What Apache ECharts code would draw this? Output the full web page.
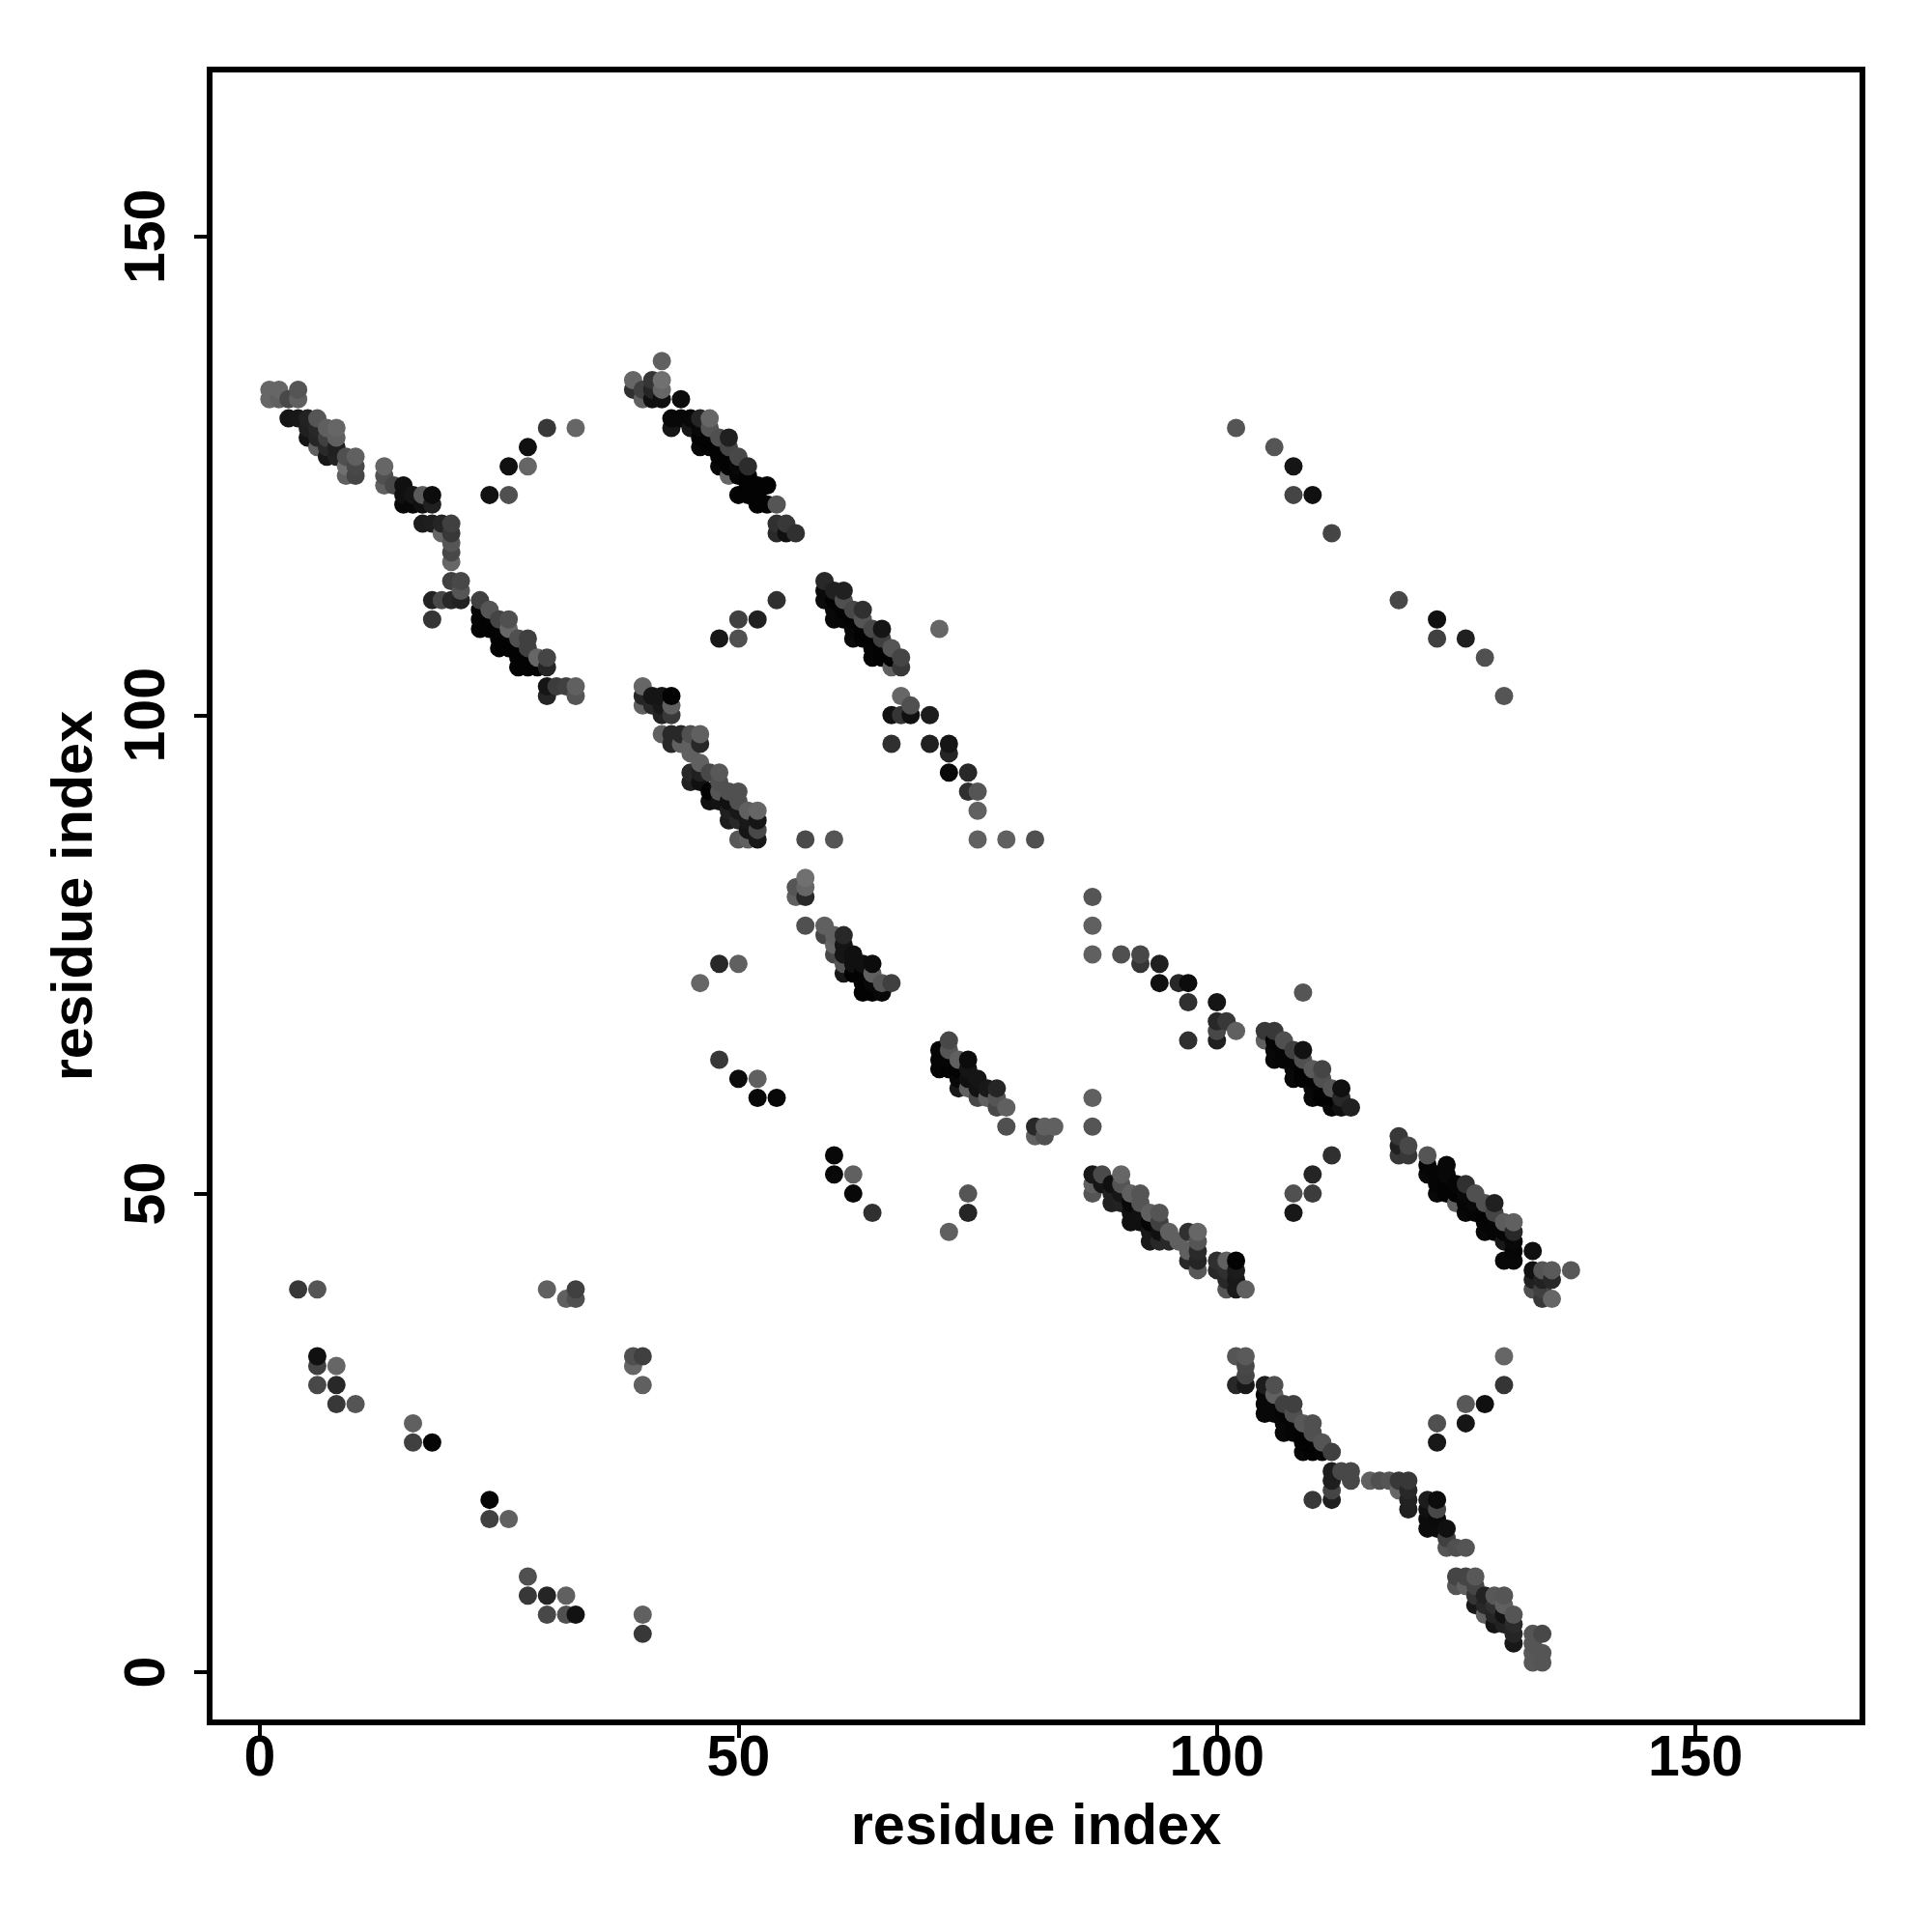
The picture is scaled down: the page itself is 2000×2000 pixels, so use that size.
<!DOCTYPE html>
<html>
<head>
<meta charset="utf-8">
<style>html,body{margin:0;padding:0;background:#fff}#c{width:2000px;height:2000px}</style>
<script src="https://cdn.jsdelivr.net/npm/echarts@6/dist/echarts.min.js"></script>
</head>
<body>
<div id="c"></div>
<script>
// Each point: [residue x, residue y, grey level]
const xTicks = [0, 50, 100, 150];
const yTicks = [0, 50, 100, 150];
const axisTitle = 'residue index';

const helixTopLeft = [
[1,134,0x66],[2,134,0x66],[4,134,0x55],[1,133,0x66],[2,133,0x60],[3,133,0x48],[4,133,0x60],
[3,131,0x15],[4,131,0x18],[5,131,0x22],[6,131,0x55],[5,130,0x20],[6,130,0x28],[7,130,0x5f],[8,130,0x66],
[5,129,0x15],[6,129,0x25],[7,129,0x40],[8,129,0x60],[6,128,0x60],[7,128,0x2a],[8,128,0x20],
[7,127,0x18],[8,127,0x22],[9,127,0x50],[10,127,0x60],[9,126,0x70],[10,126,0x48],[9,125,0x60],[10,125,0x45],
[13,126,0x66],[13,125,0x50],[13,124,0x60],[14,124,0x48],[15,124,0x10],
[15,123,0x10],[16,123,0x15],[17,123,0x5a],[18,123,0x0c],[15,122,0x08],[16,122,0x08],[17,122,0x10],[18,122,0x20],
[17,120,0x1c],[18,120,0x1e],[19,120,0x25],[20,120,0x40],[19,119,0x66],[20,119,0x38],[20,118,0x55],[20,117,0x48],[20,116,0x66],
[20,114,0x40],[21,114,0x48],[21,113,0x55],[18,112,0x22],[19,112,0x48],[20,112,0x28],[21,112,0x22],[18,110,0x35],
[23,112,0x40],[23,111,0x04],[23,110,0x04],[23,109,0x04],[24,111,0x55],[24,110,0x03],[24,109,0x03],
[25,110,0x45],[25,109,0x04],[25,108,0x03],[25,107,0x03],[26,110,0x50],[26,109,0x66],[26,108,0x03],[26,107,0x03],
[27,108,0x50],[27,107,0x03],[27,106,0x03],[27,105,0x03],[28,108,0x40],[28,107,0x40],[28,106,0x03],[28,105,0x03],
[29,106,0x66],[29,105,0x03],[30,106,0x45],[30,105,0x25],[30,103,0x15],[31,103,0x3c],[32,103,0x40],[33,103,0x60],[30,102,0x25],[33,102,0x55],
[30,130,0x38],[33,130,0x66],[28,128,0x10],[26,126,0x10],[28,126,0x66],[24,123,0x12],[26,123,0x50]
];

const helixTopMiddle = [
[42,137,0x60],[39,135,0x66],[41,135,0x35],[42,135,0x70],[39,134,0x30],[40,134,0x40],[41,134,0x25],[42,134,0x66],
[40,133,0x60],[41,133,0x10],[42,133,0x10],[44,133,0x0c],
[43,131,0x08],[44,131,0x08],[45,131,0x08],[46,131,0x25],[47,131,0x66],[43,130,0x15],[45,130,0x15],[46,130,0x08],[47,130,0x55],
[46,129,0x03],[47,129,0x03],[48,129,0x50],[49,129,0x20],[46,128,0x08],[47,128,0x03],[48,128,0x03],[49,128,0x45],
[48,127,0x03],[49,127,0x03],[50,127,0x48],[48,126,0x08],[49,126,0x03],[50,126,0x08],[51,126,0x2c],
[49,125,0x66],[50,125,0x05],[51,125,0x03],[51,124,0x03],[52,124,0x03],[53,124,0x03],
[50,123,0x03],[51,123,0x03],[52,123,0x03],[52,122,0x03],[53,122,0x03],[54,122,0x55],
[54,120,0x30],[55,120,0x38],[54,119,0x2a],[55,119,0x10],[56,119,0x30],
[54,112,0x30],[50,110,0x40],[52,110,0x20],[48,108,0x18],[50,108,0x50],[71,109,0x66]
];

const helixUpperCentre = [
[59,114,0x28],[59,113,0x0a],[59,112,0x0c],[60,113,0x20],[61,113,0x20],[60,112,0x03],[61,112,0x50],
[60,111,0x08],[60,110,0x08],[61,111,0x03],[61,110,0x05],[62,111,0x48],[63,111,0x30],[62,110,0x03],[63,110,0x55],
[62,109,0x08],[62,108,0x0a],[63,109,0x03],[63,108,0x03],[64,109,0x48],[65,109,0x15],[64,108,0x03],[65,108,0x40],
[64,107,0x05],[64,106,0x05],[65,107,0x03],[65,106,0x03],[66,107,0x55],[66,106,0x03],[66,105,0x60],[67,106,0x45],[67,105,0x38],
[67,102,0x66],[68,101,0x50],[66,100,0x12],[67,100,0x35],[68,100,0x10],[70,100,0x1c],
[66,97,0x30],[70,97,0x20],[72,97,0x15],[72,96,0x25],[72,94,0x08],[74,94,0x28],[74,92,0x30],[75,92,0x55],[75,90,0x60],
[57,87,0x4a],[60,87,0x55],[75,87,0x60],[78,87,0x60],[81,87,0x50]
];

const helixSecondLeft = [
[40,103,0x66],[40,102,0x25],[41,102,0x15],[42,102,0x15],[43,102,0x03],[40,101,0x60],[41,101,0x28],[42,101,0x18],[43,101,0x60],
[42,100,0x22],[43,100,0x38],[42,98,0x60],[43,98,0x28],[44,98,0x28],[45,98,0x50],[46,98,0x60],
[43,97,0x28],[44,97,0x60],[45,97,0x60],[46,97,0x28],[45,96,0x60],[46,95,0x60],[46,94,0x20],
[45,94,0x28],[47,94,0x48],[48,94,0x58],[45,93,0x20],[46,93,0x10],[48,93,0x50],
[47,92,0x03],[48,92,0x55],[49,92,0x50],[50,92,0x50],[47,91,0x10],[48,91,0x12],[49,91,0x10],[50,91,0x50],
[49,90,0x20],[50,90,0x18],[51,90,0x60],[52,90,0x66],[49,89,0x1c],[50,89,0x28],[51,89,0x18],[52,89,0x15],
[51,88,0x15],[52,88,0x48],[50,87,0x58],[51,87,0x60],[52,87,0x18]
];

const helixCentre = [
[57,83,0x70],[56,82,0x55],[57,82,0x66],[56,81,0x60],[57,81,0x28],[57,78,0x50],
[59,78,0x60],[59,77,0x45],[60,77,0x60],[61,77,0x28],[60,76,0x66],[61,76,0x15],[60,75,0x48],[61,75,0x15],[62,75,0x10],
[61,74,0x55],[62,74,0x10],[63,74,0x10],[64,74,0x0c],[61,73,0x18],[62,73,0x03],[63,73,0x03],[64,73,0x60],
[63,72,0x03],[64,72,0x08],[65,72,0x55],[66,72,0x40],[63,71,0x03],[64,71,0x03],[65,71,0x08],
[48,74,0x28],[50,74,0x60],[46,72,0x66],[48,64,0x38],[50,62,0x0c],[52,62,0x60],[52,60,0x08],[54,60,0x08],
[60,54,0x08],[60,52,0x08],[62,52,0x60],[62,50,0x08],[64,48,0x30],[74,50,0x55],[74,48,0x25],[72,46,0x60]
];

const helixCentreRight = [
[72,66,0x48],[71,65,0x05],[72,65,0x55],[71,64,0x05],[72,64,0x05],[73,64,0x60],[74,64,0x0c],
[71,63,0x05],[72,63,0x03],[73,63,0x03],[74,63,0x15],[73,62,0x08],[74,62,0x10],[75,62,0x15],
[73,61,0x18],[74,61,0x60],[75,61,0x12],[76,61,0x18],[77,61,0x25],[75,60,0x48],[76,60,0x60],[77,60,0x55],
[77,59,0x48],[78,59,0x60],[78,57,0x50],[81,57,0x28],[82,57,0x60],[83,57,0x60],[81,56,0x60],[82,56,0x50],[87,60,0x60],[87,57,0x55]
];

const helixLowerMiddle = [
[87,52,0x18],[88,52,0x4a],[90,52,0x66],[87,51,0x60],[88,51,0x15],[89,51,0x10],[90,51,0x55],
[87,50,0x55],[89,50,0x20],[90,50,0x15],[91,50,0x60],[92,50,0x55],[89,49,0x20],[90,49,0x22],[91,49,0x08],[92,49,0x55],
[91,48,0x10],[92,48,0x10],[93,48,0x60],[94,48,0x55],[91,47,0x10],[92,47,0x10],[93,47,0x05],[94,47,0x40],
[93,46,0x18],[94,46,0x10],[95,46,0x60],[97,46,0x30],[98,46,0x66],[93,45,0x1a],[94,45,0x28],[95,45,0x28],[96,45,0x60],[98,45,0x55],
[97,44,0x60],[98,44,0x2a],[97,43,0x28],[98,43,0x25],[100,43,0x30],[101,43,0x60],[102,43,0x03],
[98,42,0x58],[100,42,0x28],[101,42,0x30],[102,42,0x1c],[101,41,0x28],[102,41,0x18],[101,40,0x55],[102,40,0x1a],[103,40,0x60]
];

const helixRightUpper = [
[105,67,0x38],[106,67,0x38],[105,66,0x60],[106,66,0x05],[107,66,0x50],[106,65,0x08],[106,64,0x08],[107,65,0x05],[107,64,0x05],
[108,65,0x40],[109,65,0x12],[108,64,0x05],[109,64,0x50],[108,63,0x08],[108,62,0x08],[109,63,0x03],[109,62,0x03],[110,63,0x5a],[111,63,0x45],
[110,62,0x03],[111,62,0x50],[110,61,0x08],[110,60,0x08],[111,61,0x03],[111,60,0x03],[112,61,0x55],[113,61,0x10],
[112,60,0x03],[113,60,0x28],[112,59,0x08],[113,59,0x10],[114,59,0x20],
[112,54,0x30],[110,52,0x25],[108,50,0x50],[110,50,0x3c],[108,48,0x18]
];

const helixRightLower = [
[119,56,0x38],[119,55,0x20],[120,55,0x48],[119,54,0x38],[120,54,0x38],[122,54,0x55],[122,53,0x05],[122,52,0x08],[124,53,0x08],
[123,52,0x05],[124,52,0x08],[123,51,0x05],[123,50,0x08],[124,51,0x03],[125,51,0x05],[126,51,0x30],[124,50,0x03],[125,50,0x03],[126,50,0x08],[127,50,0x50],
[125,49,0x60],[126,49,0x05],[127,49,0x08],[128,49,0x50],[129,49,0x20],[126,48,0x08],[127,48,0x05],[128,48,0x03],[129,48,0x45],
[128,47,0x05],[129,47,0x05],[130,47,0x5c],[131,47,0x60],[128,46,0x08],[129,46,0x05],[130,46,0x05],[131,46,0x28],
[130,45,0x18],[131,45,0x08],[131,44,0x05],[130,43,0x08],[131,43,0x08],[133,44,0x10],
[133,42,0x10],[134,42,0x55],[135,42,0x5a],[137,42,0x58],[133,41,0x20],[134,41,0x22],[135,41,0x28],[133,40,0x50],[134,40,0x40],[134,39,0x38],[135,39,0x66]
];

const helixBottomRight = [
[102,33,0x55],[103,33,0x5a],[103,32,0x48],[103,31,0x45],[102,30,0x28],[103,30,0x18],[105,30,0x1c],[106,30,0x50],
[105,29,0x08],[106,29,0x60],[105,28,0x08],[105,27,0x08],[106,28,0x08],[106,27,0x08],[107,28,0x40],[108,28,0x40],[108,27,0x50],[107,27,0x05],
[107,26,0x08],[107,25,0x08],[108,26,0x05],[108,25,0x05],[109,26,0x58],[110,26,0x50],[109,25,0x03],[110,25,0x50],
[109,24,0x03],[109,23,0x08],[110,24,0x03],[110,23,0x03],[111,24,0x55],[111,23,0x05],[112,23,0x40],
[112,21,0x1c],[113,21,0x48],[114,21,0x48],[112,20,0x1e],[114,20,0x48],[112,19,0x45],[112,18,0x20],[110,18,0x38],
[116,20,0x60],[117,20,0x50],[118,20,0x55],[119,20,0x38],[120,20,0x38],[119,19,0x66],[120,19,0x28],[120,18,0x22],[120,17,0x20],
[122,18,0x1c],[123,18,0x0c],[122,17,0x10],[123,17,0x48],[122,16,0x0c],[123,16,0x0a],[122,15,0x0c],[123,15,0x0c],[124,15,0x10],
[124,14,0x40],[124,13,0x55],[125,13,0x50],[126,13,0x55],
[130,33,0x66],[130,30,0x35],[126,28,0x58],[128,28,0x10],[126,26,0x15],[123,26,0x50],[123,24,0x18],
[125,10,0x45],[126,10,0x45],[127,10,0x58],[125,9,0x55],[126,9,0x60],[127,9,0x45],[127,8,0x35],[128,8,0x22],[129,8,0x58],[130,8,0x55],
[127,7,0x18],[128,7,0x28],[129,7,0x30],[130,7,0x60],[128,6,0x60],[129,6,0x25],[130,6,0x12],[131,6,0x55],
[129,5,0x15],[130,5,0x22],[131,5,0x2a],[131,4,0x25],[131,3,0x18],
[133,4,0x55],[134,4,0x48],[133,3,0x55],[133,2,0x58],[134,2,0x55],[133,1,0x58],[134,1,0x55]
];

const contactsBottomLeft = [
[4,40,0x38],[6,40,0x55],[30,40,0x60],[33,40,0x40],[32,39,0x60],[33,39,0x50],
[6,33,0x10],[6,32,0x40],[8,32,0x66],[6,30,0x48],[8,30,0x28],[8,28,0x38],[10,28,0x55],
[16,26,0x60],[16,24,0x40],[18,24,0x05],[24,18,0x05],[24,16,0x40],[26,16,0x60],
[28,10,0x50],[28,8,0x38],[30,8,0x25],[32,8,0x60],[30,6,0x48],[32,6,0x50],[33,6,0x12],
[39,33,0x50],[40,33,0x40],[39,32,0x66],[40,30,0x60],[40,6,0x60],[40,4,0x38]
];

const contactsUpperRight = [
[102,130,0x55],[106,128,0x55],[108,126,0x15],[108,123,0x45],[110,123,0x10],[112,119,0x45],
[119,112,0x48],[123,110,0x10],[123,108,0x40],[126,108,0x20],[128,106,0x50],[130,102,0x55]
];

const contactsMiddleRight = [
[87,81,0x55],[87,78,0x60],[87,75,0x60],[90,75,0x50],[92,75,0x48],[92,74,0x35],[94,74,0x20],[94,72,0x10],
[96,72,0x28],[97,72,0x0c],[97,70,0x30],[100,70,0x15],[100,68,0x28],[101,68,0x38],[100,67,0x48],[100,66,0x20],
[97,66,0x30],[102,67,0x60],[109,71,0x55]
];

const points = [].concat(
  helixTopLeft, helixTopMiddle, helixUpperCentre, helixSecondLeft, helixCentre, helixCentreRight,
  helixLowerMiddle, helixRightUpper, helixRightLower, helixBottomRight,
  contactsBottomLeft, contactsUpperRight, contactsMiddleRight
).sort((a, b) => a[0] - b[0] || a[1] - b[1]);

const font = '"Liberation Sans", Arial, Helvetica, sans-serif';
const chart = echarts.init(document.getElementById('c'), null, {renderer: 'canvas', width: 2000, height: 2000});

function axis(ticks, range, extra) {
  return Object.assign({
    type: 'value', min: range[0], max: range[1],
    name: axisTitle, nameLocation: 'middle', nameMoveOverlap: false,
    nameTextStyle: {fontFamily: font, fontWeight: 'bold', fontSize: 59.5, color: '#000'},
    splitLine: {show: false}, axisLine: {show: false, onZero: false},
    axisTick: {show: true, length: 16, inside: false, customValues: ticks, lineStyle: {color: '#000', width: 4}}
  }, extra);
}

chart.setOption({
  animation: false,
  backgroundColor: '#fff',
  grid: {left: 217, top: 72, width: 1711, height: 1711, show: true, borderColor: '#000', borderWidth: 6, backgroundColor: 'transparent'},
  xAxis: axis(xTicks, [-5.25, 167.45], {
    position: 'bottom',
    nameGap: 80,
    axisLabel: {customValues: xTicks, margin: 9, fontFamily: font, fontWeight: 'bold', fontSize: 59, color: '#000', formatter: v => String(v)}
  }),
  yAxis: axis(yTicks, [-5.25, 167.45], {
    position: 'left',
    nameGap: 108,
    axisLabel: {customValues: yTicks, rotate: 90, margin: 63, fontFamily: font, fontWeight: 'bold', fontSize: 59, color: '#000', verticalAlign: 'middle', align: 'center', formatter: v => String(v)}
  }),
  series: [{
    type: 'scatter',
    data: points,
    symbol: 'circle',
    symbolSize: 19,
    large: false,
    encode: {x: 0, y: 1},
    itemStyle: {opacity: 1, color: p => { const g = p.value[2]; return 'rgb(' + g + ',' + g + ',' + g + ')'; }}
  }]
});
</script>
</body>
</html>
